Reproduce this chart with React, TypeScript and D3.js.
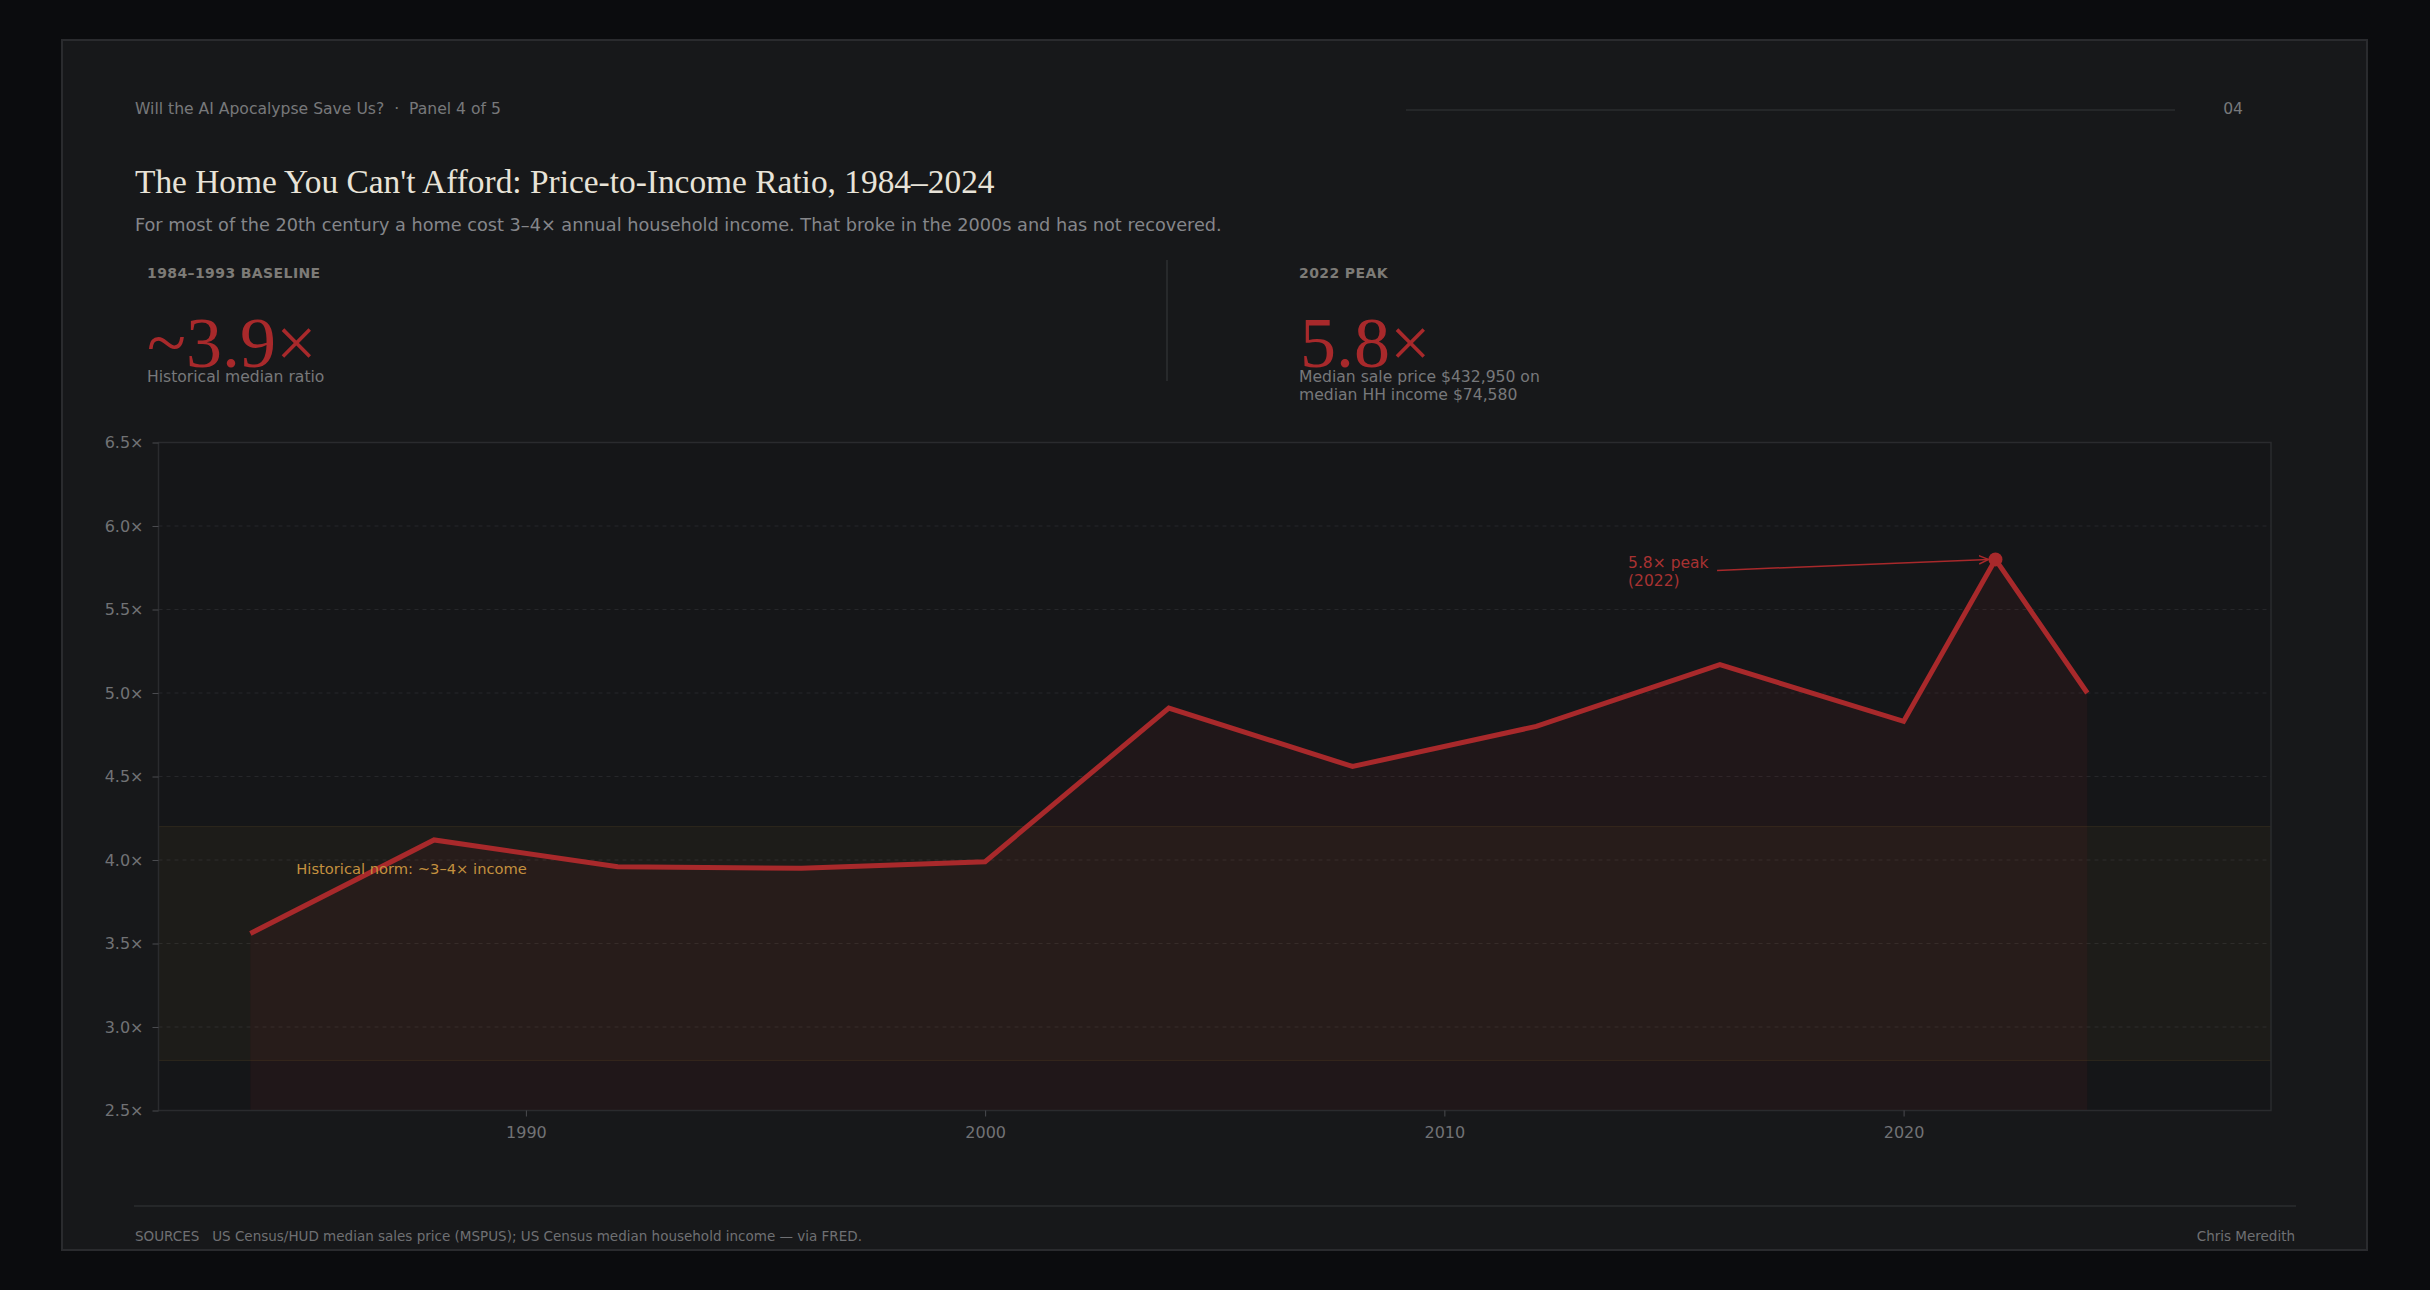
import React, { useEffect, useRef } from 'react';
import * as d3 from 'd3';

// price-to-income ratio, sampled every four years plus the 2022 peak
const years = [1984, 1988, 1992, 1996, 2000, 2004, 2008, 2012, 2016, 2020, 2022, 2024];
const ratios = [3.56, 4.12, 3.96, 3.95, 3.99, 4.91, 4.56, 4.8, 5.17, 4.83, 5.8, 5.0];

const yTicks = [2.5, 3.0, 3.5, 4.0, 4.5, 5.0, 5.5, 6.0, 6.5];
const xTicks = [1990, 2000, 2010, 2020];
const normBand = [2.8, 4.2];
const peakYear = 2022;
const peakRatio = 5.8;

const W = 2430;
const H = 1290;
const margin = { left: 158.5, top: 442.5, right: 159, bottom: 179.5 };
const plotW = W - margin.left - margin.right;
const plotH = H - margin.top - margin.bottom;

const SANS = '"DejaVu Sans", Verdana, sans-serif';
const SERIF = '"Liberation Serif", "Times New Roman", serif';
const RED = '#a8292b';
const MUTED = '#77787b';

export default function App() {
    const xAxisRef = useRef<SVGGElement>(null);
    const yAxisRef = useRef<SVGGElement>(null);

    const xScale = d3.scaleLinear().domain([1982, 2028]).range([0, plotW]);
    const yScale = d3.scaleLinear().domain([2.5, 6.5]).range([plotH, 0]);

    const points = years.map((y, i) => ({ year: y, ratio: ratios[i] }));

    const line = d3.line<{ year: number; ratio: number }>()
        .x((d) => xScale(d.year))
        .y((d) => yScale(d.ratio));

    const area = d3.area<{ year: number; ratio: number }>()
        .x((d) => xScale(d.year))
        .y0(plotH)
        .y1((d) => yScale(d.ratio));

    useEffect(() => {
        const xAxis = d3.axisBottom(xScale)
            .tickValues(xTicks)
            .tickFormat((d) => String(d))
            .tickSize(6)
            .tickPadding(10);

        const yAxis = d3.axisLeft(yScale)
            .tickValues(yTicks)
            .tickFormat((d) => (+d).toFixed(1) + '×')
            .tickSize(6)
            .tickPadding(9);

        [d3.select(xAxisRef.current!).call(xAxis), d3.select(yAxisRef.current!).call(yAxis)].forEach((g: any) => {
            g.select('.domain').remove();
            g.selectAll('.tick line').attr('stroke', '#4a4b4f');
            g.selectAll('.tick text')
                .attr('fill', '#717275')
                .style('font-family', SANS)
                .style('font-size', '16px');
        });
    }, []);

    const peakX = xScale(peakYear);
    const peakY = yScale(peakRatio);
    const noteX = xScale(2014);

    return (
        <svg width={W} height={H} style={{ position: 'absolute', left: 0, top: 0, display: 'block' }}>
            <defs>
                <marker id="arrowhead" viewBox="0 0 10 10" refX="9" refY="5" markerWidth="7" markerHeight="7" orient="auto">
                    <path d="M0,1 L9,5 L0,9" fill="none" stroke={RED} strokeWidth="1.4" />
                </marker>
            </defs>

            <rect x={0} y={0} width={W} height={H} fill="#0b0c0e" />
            <rect x={62} y={40} width={2305} height={1210} fill="#17181a" stroke="#2a2b2e" strokeWidth={2} />

            {/* header */}
            <text x={135} y={114} fill={MUTED} fontFamily={SANS} fontSize={15.6} style={{ whiteSpace: 'pre' }}>
                {'Will the AI Apocalypse Save Us?  ·  Panel 4 of 5'}
            </text>
            <line x1={1406} x2={2175} y1={110} y2={110} stroke="#2b2c2f" strokeWidth={1.5} />
            <text x={2243} y={114} textAnchor="end" fill={MUTED} fontFamily={SANS} fontSize={15.6}>04</text>

            <text x={135} y={193} fill="#e8e3d8" fontFamily={SERIF} fontSize={33.4}>
                The Home You Can't Afford: Price-to-Income Ratio, 1984–2024
            </text>
            <text x={135} y={231} fill="#85868a" fontFamily={SANS} fontSize={17.7}>
                For most of the 20th century a home cost 3–4× annual household income. That broke in the 2000s and has not recovered.
            </text>

            {/* stat blocks */}
            <text x={147} y={278} fill="#7d7b77" fontFamily={SANS} fontSize={14} fontWeight="bold" letterSpacing={0.4}>1984–1993 BASELINE</text>
            <text x={147} y={367} fill={RED} fontFamily={SERIF} fontSize={72}>~3.9×</text>
            <text x={147} y={382} fill={MUTED} fontFamily={SANS} fontSize={15.6}>Historical median ratio</text>

            <line x1={1167} x2={1167} y1={260} y2={381} stroke="#2e2f32" strokeWidth={1.5} />

            <text x={1299} y={278} fill="#7d7b77" fontFamily={SANS} fontSize={14} fontWeight="bold" letterSpacing={0.4}>2022 PEAK</text>
            <text x={1300} y={367} fill={RED} fontFamily={SERIF} fontSize={72}>5.8×</text>
            <text x={1299} y={382} fill={MUTED} fontFamily={SANS} fontSize={15.6}>Median sale price $432,950 on</text>
            <text x={1299} y={400} fill={MUTED} fontFamily={SANS} fontSize={15.6}>median HH income $74,580</text>

            {/* chart */}
            <g transform={`translate(${margin.left}, ${margin.top})`}>
                <rect x={0} y={0} width={plotW} height={plotH} fill="#151618" />

                {yTicks.slice(1, -1).map((t) => (
                    <line key={t} x1={0} x2={plotW} y1={yScale(t)} y2={yScale(t)}
                        stroke="#26272a" strokeWidth={1} strokeDasharray="4 4" />
                ))}

                <rect x={0} y={yScale(normBand[1])} width={plotW} height={yScale(normBand[0]) - yScale(normBand[1])}
                    fill="rgba(200,150,60,0.05)" />
                <line x1={0} x2={plotW} y1={yScale(normBand[1])} y2={yScale(normBand[1])} stroke="rgba(200,150,60,0.12)" />
                <line x1={0} x2={plotW} y1={yScale(normBand[0])} y2={yScale(normBand[0])} stroke="rgba(200,150,60,0.12)" />

                <path d={area(points) || ''} fill="rgba(166,42,44,0.08)" />
                <path d={line(points) || ''} fill="none" stroke={RED} strokeWidth={5} strokeLinejoin="miter" />

                <text x={xScale(1985)} y={yScale(4.0) + 14} fill="#c4913f" fontFamily={SANS} fontSize={14.7}>
                    Historical norm: ~3–4× income
                </text>

                <circle cx={peakX} cy={peakY} r={7} fill={RED} />
                <text x={noteX} y={peakY + 9} fill="#a83232" fontFamily={SANS} fontSize={15.5}>5.8× peak</text>
                <text x={noteX} y={peakY + 27} fill="#a83232" fontFamily={SANS} fontSize={15.5}>(2022)</text>
                <line x1={noteX + 89} y1={peakY + 11} x2={peakX - 7} y2={peakY}
                    stroke={RED} strokeWidth={1.5} markerEnd="url(#arrowhead)" />

                <rect x={0} y={0} width={plotW} height={plotH} fill="none" stroke="#2a2b2e" strokeWidth={1.5} />

                <g ref={yAxisRef} />
                <g ref={xAxisRef} transform={`translate(0, ${plotH})`} />
            </g>

            {/* footer */}
            <line x1={134} x2={2296} y1={1206} y2={1206} stroke="#2b2c2f" strokeWidth={1.5} />
            <text x={135} y={1241} fill="#6f7073" fontFamily={SANS} fontSize={13.5} style={{ whiteSpace: 'pre' }}>
                {'SOURCES   US Census/HUD median sales price (MSPUS); US Census median household income — via FRED.'}
            </text>
            <text x={2295} y={1241} textAnchor="end" fill="#6f7073" fontFamily={SANS} fontSize={13.5}>Chris Meredith</text>
        </svg>
    );
}
